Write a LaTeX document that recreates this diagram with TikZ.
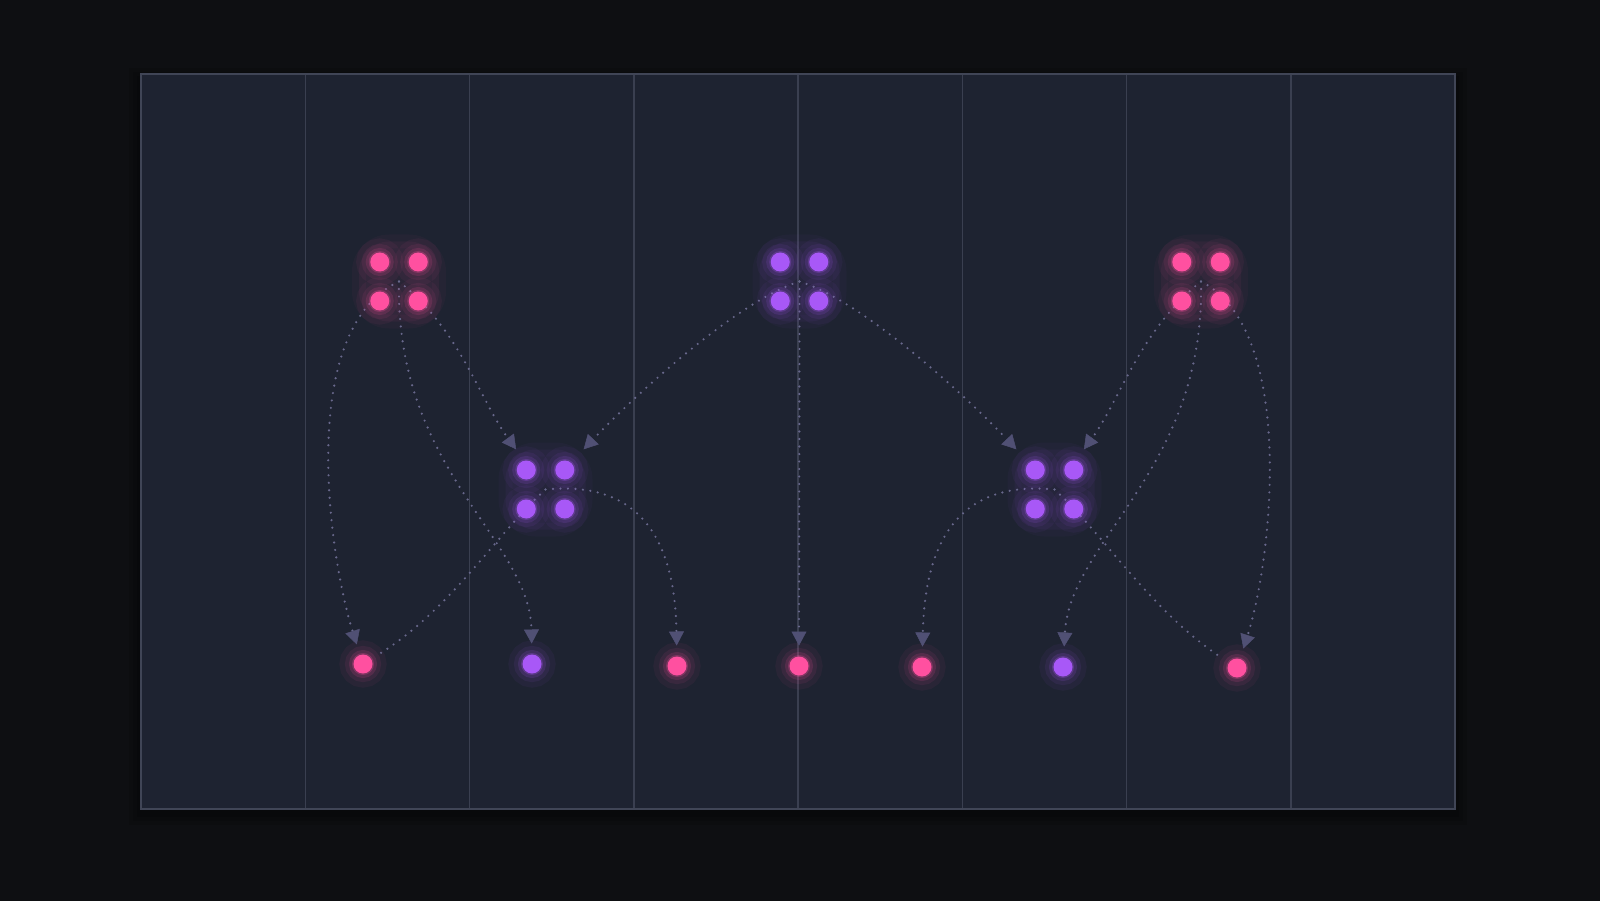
\documentclass[tikz,border=0pt]{standalone}
\usetikzlibrary{arrows.meta}
\definecolor{bgdark}{RGB}{14,15,18}
\definecolor{panel}{RGB}{30,35,49}
\definecolor{gridcol}{RGB}{58,63,80}
\definecolor{framecol}{RGB}{64,69,86}
\definecolor{dotpink}{RGB}{255,80,160}
\definecolor{dotpurple}{RGB}{168,88,247}
\definecolor{linkcol}{RGB}{104,104,140}
\definecolor{linkhead}{RGB}{80,80,116}

\begin{document}
\begin{tikzpicture}
  [x=1pt,y=-1pt,
   dot/.style={circle,inner sep=0pt,minimum size=19pt,outer sep=11pt,fill=#1,
     preaction={draw=#1,draw opacity=.05,line width=28pt},
     preaction={draw=#1,draw opacity=.08,line width=17pt},
     preaction={draw=#1,draw opacity=.14,line width=9pt},
     preaction={draw=#1,draw opacity=.25,line width=3pt}},
   group/.style={rectangle,rounded corners=30pt,minimum size=80pt,inner sep=0pt,
     fill=#1,fill opacity=.05,
     preaction={draw=#1,draw opacity=.03,line width=14pt}},
   flow/.style={linkcol,line width=2.4pt,line cap=round,dash pattern=on 0pt off 7.5pt},
   flowtip/.style={flow,-{Triangle[length=14pt,width=15pt,line width=0.5pt,fill=linkhead,color=linkhead]}}]
  \fill[bgdark] (0,0) rectangle (1600,901);
  \useasboundingbox (0,0) rectangle (1600,901);
  % panel with columns
  \foreach \s in {4,8,12}
    \fill[black,opacity=.12] (141-\s,74-\s+6) rectangle (1455+\s,809+\s+4);
  \fill[panel] (141,74) rectangle (1455,809);
  \foreach \x in {1,...,7}
    \draw[gridcol,line width=1.5pt] (141+\x*164.25,75) -- (141+\x*164.25,808);
  \draw[framecol,line width=2pt] (141,74) rectangle (1455,809);
  % groups
  \node[group=dotpink] (t1) at (399,281.5) {};
  \node[group=dotpurple] (t2) at (799.5,281.5) {};
  \node[group=dotpink] (t3) at (1201,281.5) {};
  \node[group=dotpurple] (m1) at (545.5,489.5) {};
  \node[group=dotpurple] (m2) at (1054.5,489.5) {};
  % single items
  \node[dot=dotpink] (l1) at (363,664) {};
  \node[dot=dotpurple] (l2) at (532,664) {};
  \node[dot=dotpink] (l3) at (677,666) {};
  \node[dot=dotpink] (l4) at (799,666) {};
  \node[dot=dotpink] (l5) at (922,667) {};
  \node[dot=dotpurple] (l6) at (1063,667) {};
  \node[dot=dotpink] (l7) at (1237,668) {};
  % links
  \foreach \from/\to/\ax/\ay/\bx/\by in {t1/l1/295/330/330/560,t1/l2/395/470/530/540,
    t1/m1/460/330/480/400,t2/m1/740/300/640/390,t2/m2/860/300/960/390,
    t2/l4/799.5/400/799/560,m1/l3/640/480/675/540,t3/m2/1140/330/1120/400,
    t3/l6/1205/470/1070/540,t3/l7/1297/330/1272/560,m2/l5/960/480/925/540}
    \draw[flowtip] (\from.center) .. controls (\ax,\ay) and (\bx,\by) .. (\to);
  \foreach \from/\to/\ax/\ay/\bx/\by in {m1/l1/500/530/450/610,m2/l7/1100/530/1150/610}
    \draw[flow] (\from.center) .. controls (\ax,\ay) and (\bx,\by) .. (\to);
  % dots of the groups
  \foreach \g/\c in {t1/dotpink,t2/dotpurple,t3/dotpink,m1/dotpurple,m2/dotpurple}
    \foreach \i/\dx/\dy in {a/-19.25/-19.5,b/19.25/-19.5,c/-19.25/19.5,d/19.25/19.5}
      \node[dot=\c] (\g\i) at ([shift={(\dx,\dy)}]\g.center) {};
\end{tikzpicture}
\end{document}
